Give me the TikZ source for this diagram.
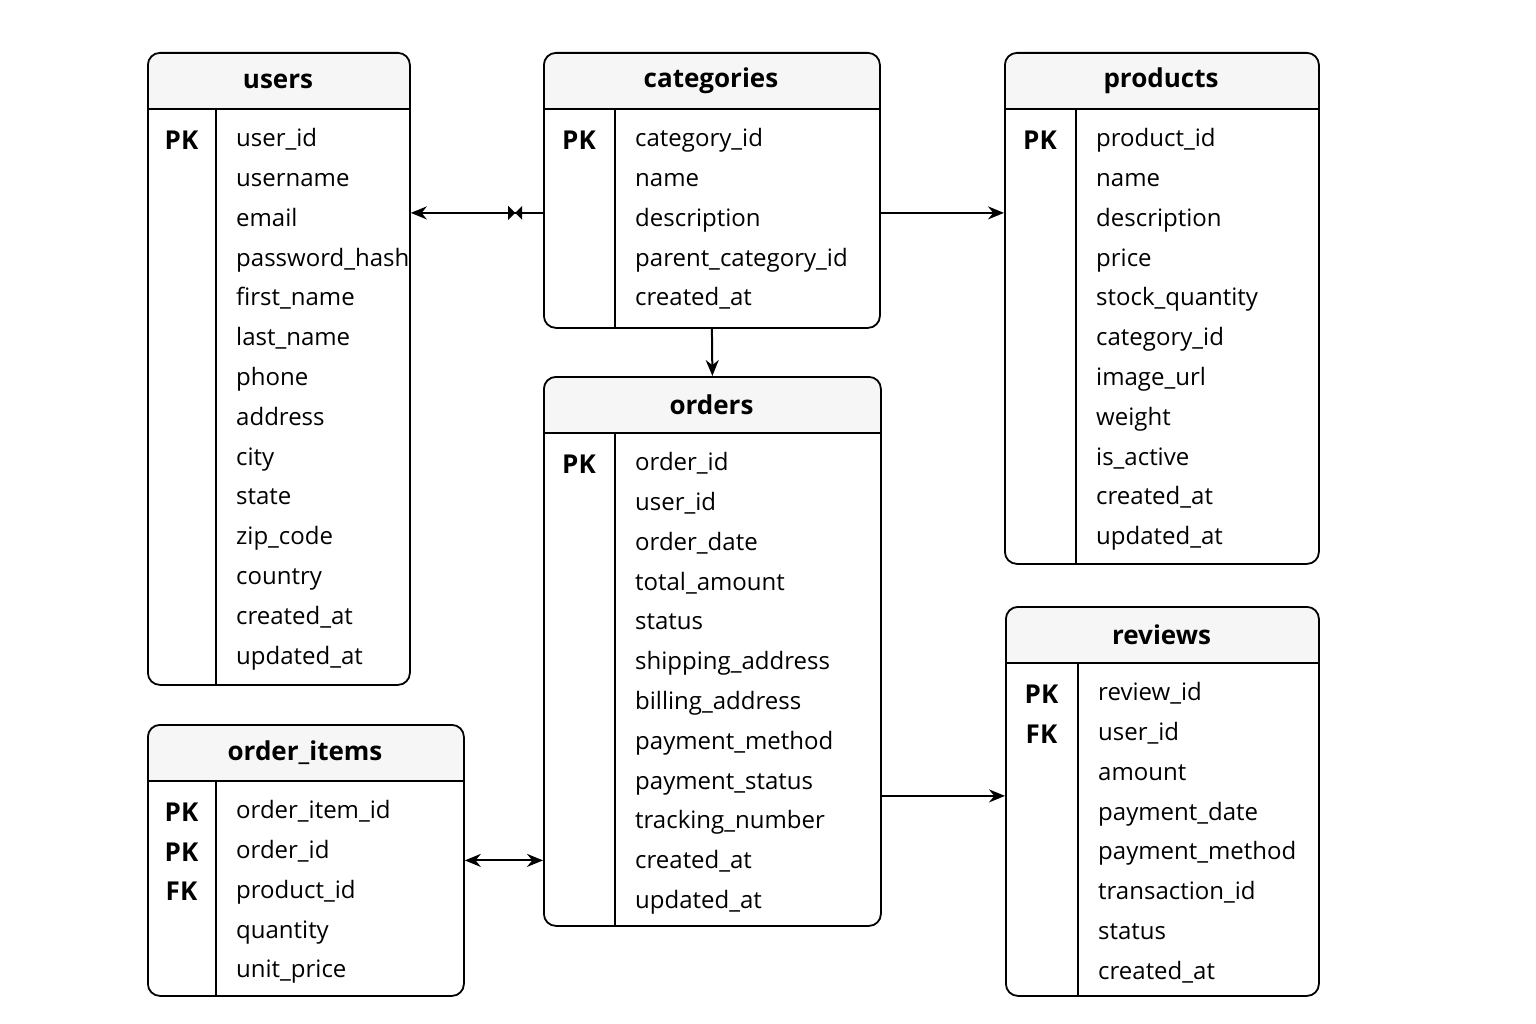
\documentclass[tikz,border=0pt]{standalone}
\usepackage{fontspec}
\setmainfont{Open Sans}
\usetikzlibrary{arrows.meta,positioning}
\usetikzlibrary{calc}

\definecolor{headfill}{HTML}{F6F6F6}

\tikzset{
  tablebox/.style = {draw, line width=1.8pt, rounded corners=12pt, inner sep=0, anchor=north west},
  title/.style = {font=\fontsize{26}{30}\selectfont\bfseries},
  field/.style = {anchor=west, inner sep=0, font=\fontsize{24}{28}\selectfont},
  keytag/.style = {inner sep=0, font=\fontsize{26}{30}\selectfont\bfseries},
  tip/.style = {-{Stealth[length=16pt,width=13pt]}},
  link/.style = {line width=2pt, tip},
}

% #1 id, #2 title, #3 left, #4 right, #5 top, #6 bottom, #7 divider, #8 keys, #9 fields
\newcommand{\dbtable}[9]{
  \fill[headfill] (#3,-#5-57) [rounded corners=12pt] -- (#3,-#5) -- (#4,-#5) [sharp corners] -- (#4,-#5-57) -- cycle;
  \node[tablebox, minimum width=#4pt-#3pt, minimum height=#6pt-#5pt] (#1) at (#3,-#5) {};
  \draw[line width=1.8pt] (#3,-#5-57) -- (#4,-#5-57);
  \draw[line width=1.8pt] (#7,-#5-57) -- (#7,-#6);
  \node[title] (#1-title) at ({(#3+#4)/2},-#5-29) {#2};
  \foreach \k [count=\i] in {#8} {
    \node[keytag] (#1-key-\i) at ({(#3+#7)/2},{-#5-88-(\i-1)*39.8}) {\k};
  }
  \foreach \f [count=\i] in {#9} {
    \node[field] (#1-\i) at (#7+20,{-#5-89-(\i-1)*39.8}) {\strut\f};
  }
}

\begin{document}
\begin{tikzpicture}[x=1pt,y=1pt]

        % page frame
        \useasboundingbox (0,0) rectangle (1536,-1024);

        % draw the tables
        \dbtable{users}{users}{147}{409}{52}{684}{216}{PK}
          {user\_id,username,email,password\_hash,first\_name,last\_name,phone,address,city,state,zip\_code,country,created\_at,updated\_at}
        \dbtable{categories}{categories}{543}{879}{52}{327}{615}{PK}
          {category\_id,name,description,parent\_category\_id,created\_at}
        \dbtable{products}{products}{1004}{1318}{52}{563}{1076}{PK}
          {product\_id,name,description,price,stock\_quantity,category\_id,image\_url,weight,is\_active,created\_at,updated\_at}
        \dbtable{orders}{orders}{543}{880}{376}{925}{615}{PK}
          {order\_id,user\_id,order\_date,total\_amount,status,shipping\_address,billing\_address,payment\_method,payment\_status,tracking\_number,created\_at,updated\_at}
        \dbtable{items}{order\_items}{147}{463}{724}{995}{216}{PK,PK,FK}
          {order\_item\_id,order\_id,product\_id,quantity,unit\_price}
        \dbtable{reviews}{reviews}{1005}{1318}{606}{995}{1078}{PK,FK}
          {review\_id,user\_id,amount,payment\_date,payment\_method,transaction\_id,status,created\_at}

        % draw the relations
        \coordinate (cu) at ($(categories.west)+(0,-22.5)$);
        \draw[link] (cu) -- coordinate[pos=0.21] (mark) (cu -| users.east);
        \fill (mark) +(-7,7) -- +(7,-7) -- +(7,7) -- +(-7,-7) -- cycle;
        \coordinate (cp) at ($(categories.east)+(0,-22.5)$);
        \draw[link] (cp) -- (cp -| products.west);
        \draw[link] (categories.south) -- (orders.north);
        \coordinate (or) at ($(orders.east)+(0,-144.5)$);
        \draw[link] (or) -- (or -| reviews.west);
        \draw[link, {Stealth[length=16pt,width=13pt]}-{Stealth[length=16pt,width=13pt]}] (items.east) -- (items.east -| orders.west);

      \end{tikzpicture}
\end{document}
